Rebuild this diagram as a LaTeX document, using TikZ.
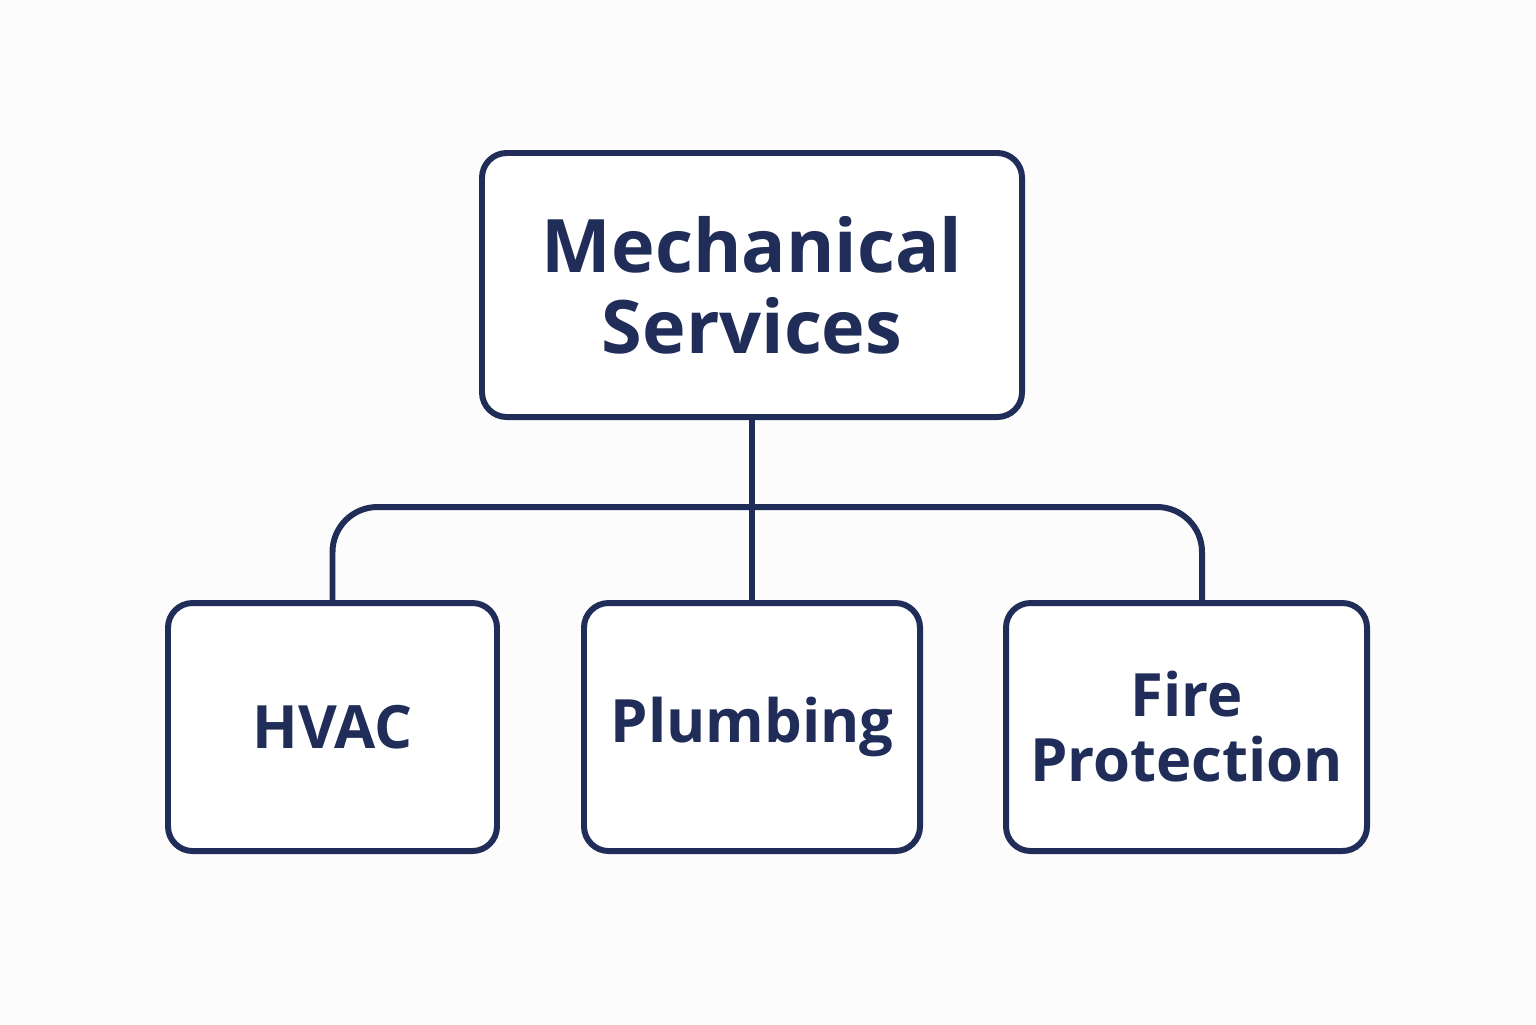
\documentclass[tikz,border=0pt]{standalone}
\usepackage{fontspec}
\setmainfont{Open Sans}
\usetikzlibrary{positioning,calc}
\definecolor{navy}{RGB}{31,45,88}
\definecolor{paper}{RGB}{252,252,252}

\tikzset{
  boxnode/.style={draw=navy, line width=3.4pt, rounded corners=14pt, fill=white, align=center, text=navy, font=\bfseries},
  link/.style={draw=navy, line width=3.4pt}
}

\begin{document}
\begin{tikzpicture}

% ===== Canvas =====
\fill[paper] (0,0) rectangle (30.72,-20.48);
\useasboundingbox (0,0) rectangle (30.72,-20.48);

% Top node
\node[boxnode, minimum width=10.8cm, minimum height=5.28cm, font=\bfseries\fontsize{42}{46}\selectfont] (mech) at (15.04,-5.70) {Mechanical\\Services};

% Service nodes
\node[boxnode, minimum width=6.58cm, minimum height=4.96cm, font=\bfseries\fontsize{34}{37}\selectfont] (hvac) at (6.65,-14.54) {HVAC};
\node[boxnode, minimum width=6.72cm, minimum height=4.96cm, font=\bfseries\fontsize{34}{37}\selectfont] (plumb) at (15.04,-14.54) {Plumbing};
\node[boxnode, minimum width=7.22cm, minimum height=4.96cm, font=\bfseries\fontsize{34}{37}\selectfont] (fire) at (23.73,-14.54) {Fire\\Protection};

% Connectors
\coordinate (junction) at (15.04,-10.14);
\coordinate (fireTop) at (24.04,-12.06);
\draw[link] (mech.south) -- (plumb.north);
\draw[link, rounded corners=0.9cm] (hvac.north) |- (junction) -| (fireTop);

\end{tikzpicture}
\end{document}
